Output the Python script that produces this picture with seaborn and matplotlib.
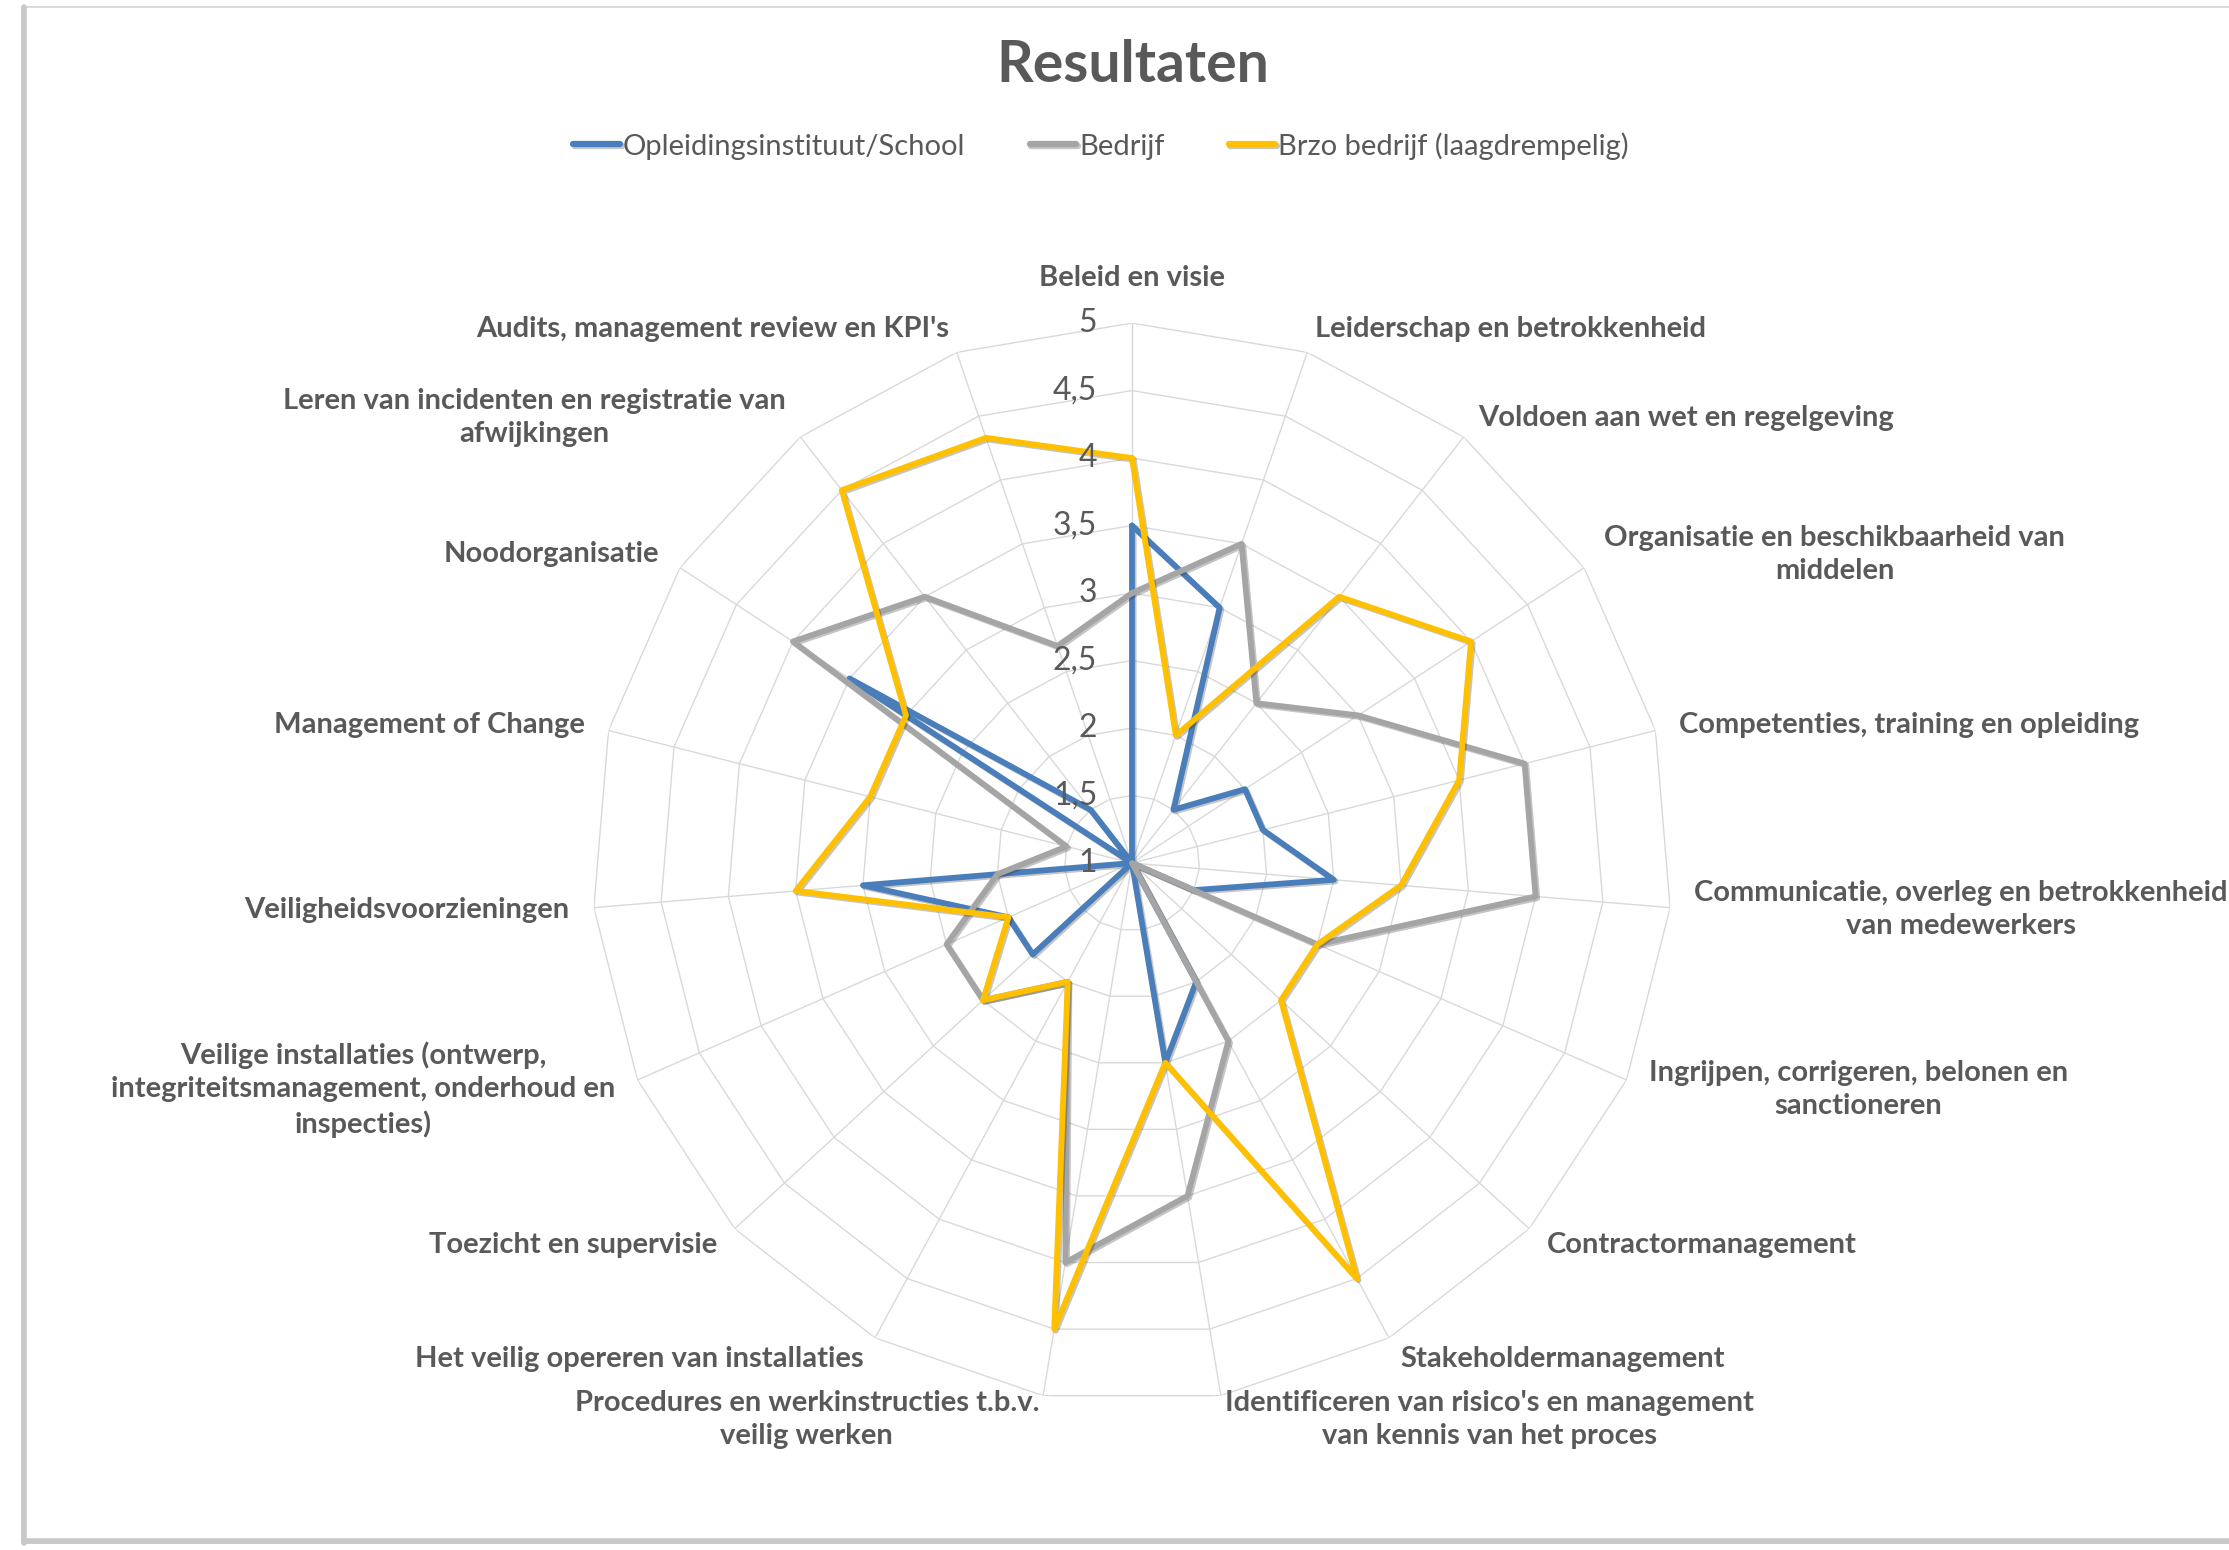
import numpy as np
import pandas as pd
import matplotlib
matplotlib.use("Agg")
import matplotlib.pyplot as plt
import matplotlib.patheffects as pe
from matplotlib.patches import Rectangle
from matplotlib.lines import Line2D
from matplotlib.transforms import offset_copy
import seaborn as sns

# ── Data ─────────────────────────────────────────────────────────────────────
CATEGORIES = [
    "Beleid en visie",
    "Leiderschap en betrokkenheid",
    "Voldoen aan wet en regelgeving",
    "Organisatie en beschikbaarheid van\nmiddelen",
    "Competenties, training en opleiding",
    "Communicatie, overleg en betrokkenheid\nvan medewerkers",
    "Ingrijpen, corrigeren, belonen en\nsanctioneren",
    "Contractormanagement",
    "Stakeholdermanagement",
    "Identificeren van risico's en management\nvan kennis van het proces",
    "Procedures en werkinstructies t.b.v.\nveilig werken",
    "Het veilig opereren van installaties",
    "Toezicht en supervisie",
    "Veilige installaties (ontwerp,\nintegriteitsmanagement, onderhoud en\ninspecties)",
    "Veiligheidsvoorzieningen",
    "Management of Change",
    "Noodorganisatie",
    "Leren van incidenten en registratie van\nafwijkingen",
    "Audits, management review en KPI's",
]
SCHOOL  = [3.5, 3.0, 1.5, 2.0, 2.0, 2.5, 1.5, 1.0, 2.0, 2.5, 1.0, 1.0, 2.0, 2.0, 3.0, 1.0, 3.5, 1.5, 1.0]
BEDRIJF = [3.0, 3.5, 2.5, 3.0, 4.0, 4.0, 2.5, 1.0, 2.5, 3.5, 4.0, 2.0, 2.5, 2.5, 2.0, 1.5, 4.0, 3.5, 2.7]
BRZO    = [4.0, 2.0, 3.5, 4.0, 3.5, 3.0, 2.5, 2.5, 4.5, 2.5, 4.5, 2.0, 2.5, 2.0, 3.5, 3.0, 3.0, 4.5, 4.33]

SERIES = ["Opleidingsinstituut/School", "Bedrijf", "Brzo bedrijf (laagdrempelig)"]
COLORS = ["#4A7EBB", "#A5A5A5", "#FFC000"]
RINGS  = [1, 1.5, 2, 2.5, 3, 3.5, 4, 4.5, 5]

TEXT = "#595959"
GRID = "#D9D9D9"

sns.set_theme(style="white")
plt.rcParams["font.family"] = ["Lato", "DejaVu Sans"]

n = len(CATEGORIES)
theta = np.linspace(0, 2 * np.pi, n, endpoint=False)
theta_closed = np.append(theta, 2 * np.pi)

rows = []
for name, vals in zip(SERIES, [SCHOOL, BEDRIJF, BRZO]):
    for t, v in zip(theta_closed, list(vals) + [vals[0]]):
        rows.append({"theta": t, "score": v, "groep": name})
df = pd.DataFrame(rows)

# ── Figure ───────────────────────────────────────────────────────────────────
fig = plt.figure(figsize=(22.29, 15.5), dpi=100)
fig.patch.set_facecolor("white")

ax = fig.add_axes([0.2656, 0.0948, 0.4845, 0.6968], projection="polar")
ax.set_theta_zero_location("N")
ax.set_theta_direction(-1)
ax.set_facecolor("none")

# polygon web like Excel
for r in RINGS[1:]:
    ax.plot(theta_closed, [r] * (n + 1), color=GRID, lw=1.0, zorder=1)
for t in theta:
    ax.plot([t, t], [RINGS[0], RINGS[-1]], color=GRID, lw=1.0, zorder=1)

sns.lineplot(
    data=df, x="theta", y="score", hue="groep", hue_order=SERIES,
    palette=dict(zip(SERIES, COLORS)), sort=False, estimator=None,
    lw=4.2, ax=ax, zorder=3,
    path_effects=[pe.SimpleLineShadow(offset=(1.2, -1.2), alpha=0.25), pe.Normal()],
)

ax.set_ylim(RINGS[0], RINGS[-1])
ax.grid(False)
ax.spines["polar"].set_visible(False)
ax.set_xticks([])
ax.set_yticks([])
ax.set_xlabel("")
ax.set_ylabel("")

# radial tick labels left of the top spoke
tick_tr = offset_copy(ax.transData, fig=fig, x=-25, y=0, units="points")
for r in RINGS:
    ax.text(0, r, f"{r:g}".replace(".", ","), transform=tick_tr,
            ha="right", va="center", fontsize=23, color=TEXT)

# category labels
for t, lab in zip(theta, CATEGORIES):
    s = np.sin(t)
    if abs(s) < 0.05:
        ha, va, rr = "center", "bottom", 5.24
    else:
        ha, va, rr = ("left" if s > 0 else "right"), "center", 5.18
    ax.text(t, rr, lab, ha=ha, va=va, multialignment="center",
            fontsize=21, fontweight="bold", color=TEXT, linespacing=1.35)

# legend on top
sns.move_legend(
    ax, "center", bbox_to_anchor=(0.494, 0.906), bbox_transform=fig.transFigure,
    ncol=3, frameon=False, title=None, fontsize=21, handlelength=1.6,
    handletextpad=0.1, columnspacing=2.2, labelcolor=TEXT,
)
for h in ax.get_legend().legend_handles:
    h.set_linewidth(4.5)

fig.text(0.5083, 0.958, "Resultaten", ha="center", va="center",
         fontsize=41, fontweight="bold", color=TEXT)

# chart area frame with a soft shadow on left/bottom
fig.patches.append(Rectangle((22 / 2229, 7 / 1550), 1.0, 1536 / 1550,
                             transform=fig.transFigure, fill=False,
                             edgecolor="#D4D4D4", lw=1.2))
fig.add_artist(Line2D([24 / 2229, 24 / 2229], [7 / 1550, 1543 / 1550],
                      transform=fig.transFigure, color="#C8C8C8", lw=4))
fig.add_artist(Line2D([24 / 2229, 1.0], [9 / 1550, 9 / 1550],
                      transform=fig.transFigure, color="#C8C8C8", lw=4))

fig.savefig("out.png", dpi=100, facecolor="white")
print("[OK] out.png")
